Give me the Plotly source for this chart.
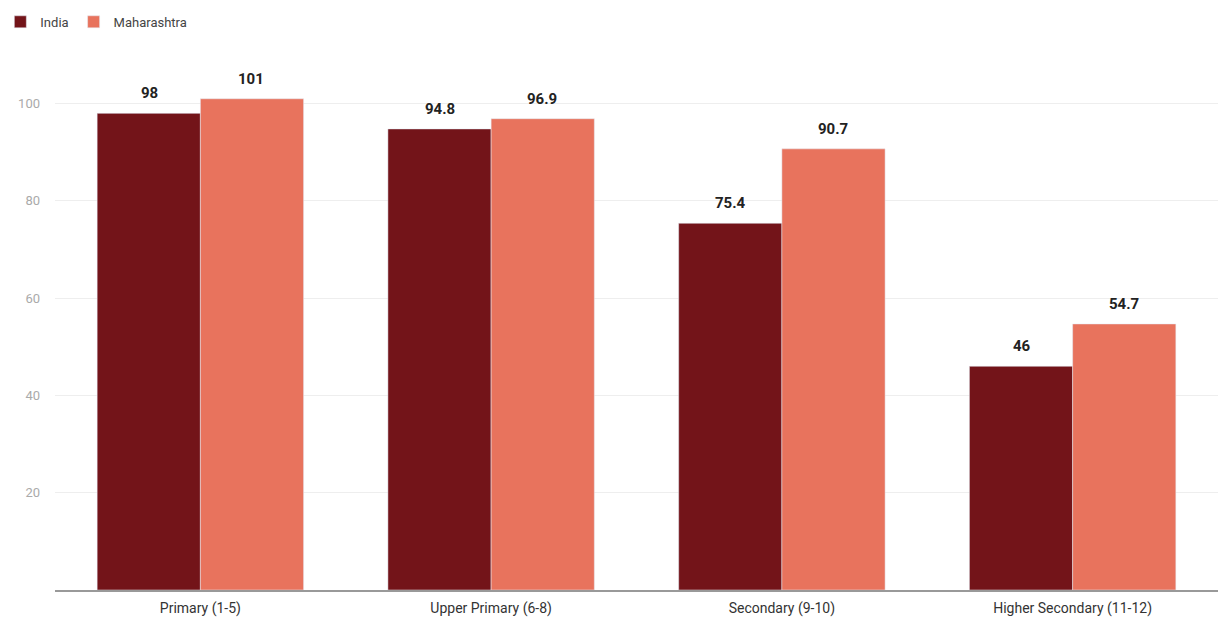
import plotly.graph_objects as go

categories = ["Primary (1-5)", "Upper Primary (6-8)", "Secondary (9-10)", "Higher Secondary (11-12)"]
india = [98, 94.8, 75.4, 46]
maharashtra = [101, 96.9, 90.7, 54.7]
ytick_vals = [20, 40, 60, 80, 100]

fig = go.Figure()
fig.add_trace(go.Bar(x=categories, y=india, name="India", marker_color="#731419"))
fig.add_trace(go.Bar(x=categories, y=maharashtra, name="Maharashtra", marker_color="#E8735D"))

label_font = dict(family="Roboto", size=15, color="#222222", weight="bold")
for series, shift in ((india, -51), (maharashtra, 51)):
    for cat, v in zip(categories, series):
        fig.add_annotation(x=cat, y=v, text=f"{v:g}", showarrow=False,
                           xshift=shift, yshift=9, yanchor="bottom", font=label_font)

fig.update_layout(
    width=1218, height=623,
    margin=dict(l=53, r=0, t=55, b=33),
    paper_bgcolor="white", plot_bgcolor="white",
    barmode="group", bargap=0.29, bargroupgap=0,
    font=dict(family="Roboto", size=13, color="#333333"),
    legend=dict(orientation="h", x=-0.047, xanchor="left", y=1.09, yanchor="top",
                font=dict(family="Roboto", size=13, color="#444444"),
                itemwidth=30, traceorder="normal"),
    xaxis=dict(showline=True, linecolor="#999999", linewidth=2, ticks="",
               tickfont=dict(family="Roboto", size=14, color="#333333"), showgrid=False,
               ticklabelstandoff=4),
    yaxis=dict(range=[0, 110], tickvals=ytick_vals, showgrid=True, gridcolor="#eeeeee",
               gridwidth=1, zeroline=False, showline=False,
               tickfont=dict(family="Roboto", size=13, color="#aaaaaa"), ticklabelstandoff=14),
)

fig.write_html("out.html")
